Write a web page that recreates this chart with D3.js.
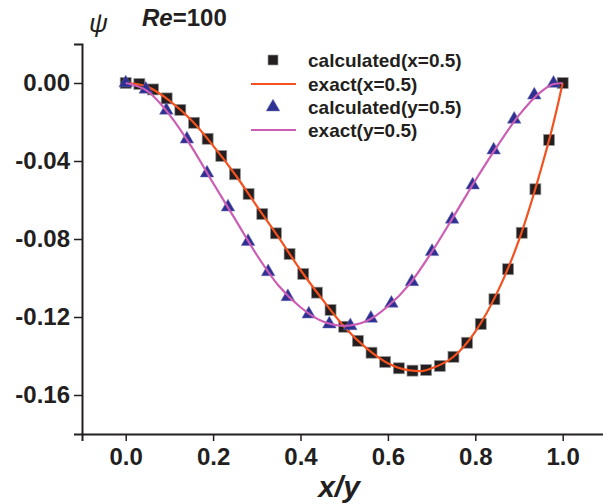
<!DOCTYPE html>
<html>
<head>
<meta charset="utf-8">
<script src="https://cdn.jsdelivr.net/npm/d3@7"></script>
<style>
  body { margin: 0; background: #fff; }
  text { font-family: "Liberation Sans", Arial, sans-serif; font-weight: bold; fill: #231f20; }
</style>
</head>
<body>
<div id="chart"></div>
<script>
// calculated, x = 0.5 (squares)
var calcXpos = [0, 0.03125, 0.0625, 0.09375, 0.125, 0.15625, 0.1875, 0.21875, 0.25, 0.28125, 0.3125,
  0.34375, 0.375, 0.40625, 0.4375, 0.46875, 0.5, 0.53125, 0.5625, 0.59375, 0.625, 0.65625, 0.6875,
  0.71875, 0.75, 0.78125, 0.8125, 0.84375, 0.875, 0.90625, 0.9375, 0.96875, 1];
var calcXpsi = [0, -0.0005, -0.0033, -0.0079, -0.0138, -0.0204, -0.0286, -0.0374, -0.0468, -0.0569, -0.0672,
  -0.0771, -0.0877, -0.0979, -0.1075, -0.1164, -0.1250, -0.1322, -0.1383, -0.1431, -0.1463, -0.1475, -0.1472,
  -0.1451, -0.1404, -0.1332, -0.1236, -0.1109, -0.0955, -0.0768, -0.0545, -0.0292, 0];

// calculated, y = 0.5 (triangles)
var calcYpos = [0, 0.046, 0.093, 0.140, 0.186, 0.234, 0.280, 0.326, 0.371, 0.419, 0.466,
  0.514, 0.561, 0.608, 0.655, 0.701, 0.747, 0.794, 0.842, 0.889, 0.935, 0.979];
var calcYpsi = [0, -0.0032, -0.0140, -0.0288, -0.0462, -0.0636, -0.0813, -0.0968, -0.1096, -0.1185, -0.1236,
  -0.1245, -0.1207, -0.1130, -0.1019, -0.0865, -0.0699, -0.0523, -0.0344, -0.0186, -0.0062, -0.0002];

// exact curves
var exactXpos = [0, 0.025, 0.05, 0.1, 0.15, 0.2, 0.25, 0.3, 0.35, 0.4, 0.45, 0.5, 0.55, 0.6, 0.65, 0.675,
  0.7, 0.75, 0.8, 0.85, 0.9, 0.95, 0.975, 0.99, 1];
var exactXpsi = [0, -0.0005, -0.0020, -0.0090, -0.0190, -0.0321, -0.0468, -0.0631, -0.0792, -0.0959, -0.1110,
  -0.1250, -0.1358, -0.1437, -0.1474, -0.1478, -0.1463, -0.1404, -0.1275, -0.1075, -0.0805, -0.0445, -0.0240,
  -0.0100, 0];
var exactYpos = [0, 0.05, 0.1, 0.15, 0.2, 0.25, 0.3, 0.35, 0.4, 0.45, 0.5, 0.55, 0.6, 0.65, 0.7, 0.75,
  0.8, 0.85, 0.9, 0.95, 0.98, 1];
var exactYpsi = [0, -0.0042, -0.0162, -0.0325, -0.0513, -0.0697, -0.0882, -0.1040, -0.1150, -0.1222, -0.1245,
  -0.1222, -0.1145, -0.1030, -0.0868, -0.0686, -0.0500, -0.0325, -0.0165, -0.0045, -0.0005, 0];

var xMajor = [0, 0.2, 0.4, 0.6, 0.8, 1.0];
var xMinor = [-0.1, 0.1, 0.3, 0.5, 0.7, 0.9, 1.1];
var yMajor = [0, -0.04, -0.08, -0.12, -0.16];
var yMinor = [0.02, -0.02, -0.06, -0.10, -0.14, -0.18];

var legendLabels = ["calculated(x=0.5)", "exact(x=0.5)", "calculated(y=0.5)", "exact(y=0.5)"];

var width = 603;
var height = 504;
var ink = "#231f20";
var orange = "#f4511e";
var pink = "#cc5cb4";
var blue = "#2e3192";

var svg = d3.select("#chart").append("svg")
    .attr("width", width)
    .attr("height", height);

var x = d3.scaleLinear().domain([-0.1, 1.1]).range([82, 606.4]);
var y = d3.scaleLinear().domain([-0.18, 0.02]).range([434, 44]);

// axes
var gy = svg.append("g").attr("transform", "translate(82,0)");
gy.call(d3.axisLeft(y).tickValues(yMinor).tickSize(4).tickFormat(""));
gy.call(d3.axisLeft(y).tickValues(yMajor).tickSize(8).tickPadding(4)
    .tickFormat(function(d) { return d.toFixed(2); }));

var gx = svg.append("g").attr("transform", "translate(0,434)");
gx.call(d3.axisBottom(x).tickValues(xMinor).tickSize(4).tickFormat(""));
gx.call(d3.axisBottom(x).tickValues(xMajor).tickSize(7).tickPadding(7)
    .tickFormat(function(d) { return d.toFixed(1); }));

svg.selectAll(".domain").attr("stroke", ink).attr("stroke-width", 2);
svg.selectAll(".tick line").attr("stroke", ink).attr("stroke-width", 1.5);
svg.selectAll(".tick text").style("font-size", "24px").attr("fill", ink);

// data
var line = d3.line()
    .x(function(d) { return x(d[0]); })
    .y(function(d) { return y(d[1]); })
    .curve(d3.curveMonotoneX);

var sq = calcXpos.map(function(v, i) { return [v, calcXpsi[i]]; });
var tri = calcYpos.map(function(v, i) { return [v, calcYpsi[i]]; });
var exX = exactXpos.map(function(v, i) { return [v, exactXpsi[i]]; });
var exY = exactYpos.map(function(v, i) { return [v, exactYpsi[i]]; });

svg.append("g").selectAll("rect").data(sq).enter().append("rect")
    .attr("x", function(d) { return x(d[0]) - 5.5; })
    .attr("y", function(d) { return y(d[1]) - 5.5; })
    .attr("width", 11).attr("height", 11)
    .attr("fill", ink).attr("stroke", "#999").attr("stroke-width", 0.7);

svg.append("path").datum(exX)
    .attr("d", line).attr("fill", "none")
    .attr("stroke", orange).attr("stroke-width", 2.2);

var triSym = d3.symbol().type(d3.symbolTriangle).size(80);
svg.append("g").selectAll("path").data(tri).enter().append("path")
    .attr("d", triSym)
    .attr("transform", function(d) { return "translate(" + x(d[0]) + "," + y(d[1]) + ")"; })
    .attr("fill", blue).attr("stroke", "#6a6cb0").attr("stroke-width", 0.5);

svg.append("path").datum(exY)
    .attr("d", line).attr("fill", "none")
    .attr("stroke", pink).attr("stroke-width", 2.2);

// legend
var lg = svg.append("g");
var rowY = [60, 84, 107, 130];
lg.append("rect").attr("x", 268).attr("y", rowY[0] - 5).attr("width", 10).attr("height", 10)
    .attr("fill", ink).attr("stroke", "#999").attr("stroke-width", 0.7);
lg.append("line").attr("x1", 251).attr("x2", 296).attr("y1", rowY[1]).attr("y2", rowY[1])
    .attr("stroke", orange).attr("stroke-width", 2.2);
lg.append("path").attr("d", triSym).attr("transform", "translate(273," + rowY[2] + ")")
    .attr("fill", blue).attr("stroke", "#6a6cb0").attr("stroke-width", 0.5);
lg.append("line").attr("x1", 251).attr("x2", 296).attr("y1", rowY[3]).attr("y2", rowY[3])
    .attr("stroke", pink).attr("stroke-width", 2.2);
lg.selectAll("text").data(legendLabels).enter().append("text")
    .attr("x", 308)
    .attr("y", function(d, i) { return rowY[i]; })
    .attr("dy", "0.35em")
    .style("font-size", "19px")
    .text(function(d) { return d; });

// titles
svg.append("text").attr("x", 89).attr("y", 32)
    .style("font-size", "26px").style("font-style", "italic").style("font-weight", "normal")
    .text("ψ");

var title = svg.append("text").attr("x", 142).attr("y", 26).style("font-size", "24px");
title.append("tspan").style("font-style", "italic").text("Re");
title.append("tspan").text("=100");

svg.append("text").attr("x", 339).attr("y", 497)
    .attr("text-anchor", "middle")
    .style("font-size", "30px").style("font-style", "italic")
    .text("x/y");
</script>
</body>
</html>
